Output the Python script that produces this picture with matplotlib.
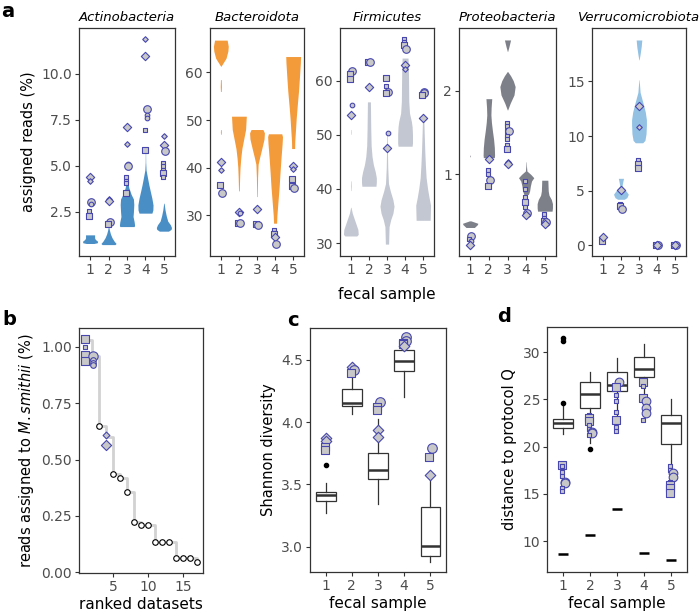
import numpy as np
import matplotlib
matplotlib.use('Agg')
from matplotlib import pyplot as plt
from matplotlib.ticker import FormatStrFormatter

samples = [1, 2, 3, 4, 5]
phyla = ['Actinobacteria', 'Bacteroidota', 'Firmicutes', 'Proteobacteria', 'Verrucomicrobiota']
phylum_colors = ['#4A8EC6', '#F39A3B', '#C3C7D1', '#7D8089', '#93C1E3']

# violin outlines: (sample, y levels, relative width)
actino_violins = [
    (1, [0.78, 0.82, 0.9, 1.0, 1.08, 1.25], [0.5, 0.95, 1.0, 0.7, 0.6, 0.6]),
    (2, [0.72, 0.78, 0.9, 1.1, 1.3, 1.5, 1.7], [0.85, 1.0, 0.75, 0.45, 0.25, 0.12, 0.03]),
    (3, [1.7, 1.78, 1.95, 2.25, 2.5, 2.9, 3.2, 3.45, 3.8, 4.1, 4.42],
        [0.95, 1.0, 0.95, 0.8, 0.85, 0.9, 0.85, 0.55, 0.25, 0.1, 0.02]),
    (4, [2.43, 2.6, 2.88, 3.24, 3.6, 3.97, 4.4, 4.78, 5.2, 5.69],
        [0.85, 0.98, 1.0, 0.85, 0.65, 0.45, 0.25, 0.08, 0.03, 0.02]),
    (5, [1.45, 1.55, 1.65, 1.8, 2.0, 2.3, 2.6, 2.97], [0.6, 0.95, 1.0, 0.85, 0.5, 0.3, 0.15, 0.03]),
]
bact_violins = [
    (1, [61.3, 62.0, 63.0, 64.5, 65.5, 66.8], [0.02, 0.3, 0.7, 0.95, 1.0, 0.85]),
    (1, [56.0, 57.0, 58.5], [0.05, 0.08, 0.05]),
    (1, [47.0, 47.5, 48.0], [0.04, 0.06, 0.04]),
    (2, [35.1, 38, 40, 42, 44, 46, 48, 50.8], [0.05, 0.1, 0.15, 0.25, 0.4, 0.65, 0.9, 1.0]),
    (3, [33.9, 36, 38, 40.7, 42.1, 44, 46, 47.3, 48.0], [0.04, 0.06, 0.08, 0.15, 0.35, 0.65, 0.95, 1.0, 0.8]),
    (4, [28.3, 30, 33, 36, 39, 42, 45, 46.5, 47.1], [0.2, 0.25, 0.4, 0.55, 0.67, 0.8, 0.95, 1.0, 0.9]),
    (5, [44.0, 45.6, 48, 50.5, 53, 56.0, 59, 62, 63.35], [0.2, 0.22, 0.32, 0.42, 0.55, 0.72, 0.85, 0.97, 1.0]),
]
firm_violins = [
    (1, [31.3, 31.6, 32.5, 33.5, 34.5, 35.5, 36.6], [0.8, 1.0, 0.95, 0.7, 0.45, 0.2, 0.03]),
    (1, [39.7, 40.6, 41.5], [0.03, 0.05, 0.03]),
    (1, [50.1, 50.5, 51.0], [0.03, 0.04, 0.03]),
    (2, [40.5, 41.2, 42.1, 43.2, 44.5, 46, 48, 51, 54, 56.1],
        [0.95, 1.0, 1.0, 0.85, 0.6, 0.42, 0.3, 0.25, 0.22, 0.2]),
    (3, [29.8, 31, 33, 34.3, 35.5, 36.8, 38.0, 39.6, 41.0, 44, 47, 50.7],
        [0.22, 0.24, 0.28, 0.5, 0.8, 0.95, 0.8, 0.45, 0.2, 0.1, 0.06, 0.04]),
    (4, [47.9, 48.5, 50.1, 51.5, 52.5, 54, 56.2, 59, 62, 64.2],
        [0.95, 1.0, 1.0, 0.95, 0.85, 0.6, 0.5, 0.48, 0.45, 0.4]),
    (5, [34.2, 35.3, 37.0, 38.4, 40, 42.1, 44.5, 47.0, 50, 53.1],
        [0.95, 0.97, 1.0, 0.8, 0.6, 0.4, 0.3, 0.22, 0.15, 0.08]),
]
proteo_violins = [
    (1, [0.365, 0.40, 0.415, 0.444], [0.55, 0.95, 1.0, 0.1]),
    (1, [1.21, 1.22, 1.23], [0.03, 0.04, 0.03]),
    (2, [1.2, 1.23, 1.32, 1.42, 1.52, 1.62, 1.71, 1.8, 1.905],
        [0.72, 0.75, 0.72, 0.62, 0.47, 0.34, 0.27, 0.3, 0.38]),
    (3, [2.47, 2.53, 2.607], [0.02, 0.2, 0.4]),
    (3, [1.77, 1.85, 1.95, 2.05, 2.12, 2.18, 2.23], [0.02, 0.35, 0.85, 1.0, 0.75, 0.4, 0.02]),
    (4, [0.76, 0.8, 0.86, 0.92, 0.96, 1.0, 1.04, 1.1, 1.15], [0.3, 0.45, 0.55, 0.7, 1.0, 0.6, 0.1, 0.04, 0.02]),
    (5, [0.56, 0.6, 0.65, 0.7, 0.75, 0.8, 0.87, 0.93], [0.95, 1.0, 1.0, 0.85, 0.55, 0.45, 0.42, 0.4]),
]
verr_violins = [
    (2, [4.2, 4.35, 4.66, 4.9, 5.2, 5.42, 5.8, 6.12], [0.45, 0.8, 1.0, 0.75, 0.4, 0.15, 0.25, 0.35]),
    (3, [16.98, 17.5, 18.2, 18.8], [0.02, 0.15, 0.3, 0.38]),
    (3, [9.38, 9.6, 10.2, 11.0, 11.5, 12.2, 13.0, 14.0, 15.15], [0.5, 0.8, 0.95, 1.0, 1.0, 0.85, 0.55, 0.15, 0.02]),
]

# single datasets: (sample, value, marker kind) D/d diamond, O/o circle, S/s square (upper = big)
actino_points = [
    (1, 4.42, 'D'), (1, 4.18, 'd'), (1, 3.03, 'O'), (1, 2.95, 'o'), (1, 2.55, 's'), (1, 2.25, 'S'),
    (2, 3.2, 'd'), (2, 3.1, 'D'), (2, 1.97, 'O'), (2, 1.83, 'S'),
    (3, 7.14, 'D'), (3, 6.2, 'd'), (3, 5.1, 'o'), (3, 4.97, 'O'), (3, 4.4, 's'), (3, 4.2, 's'),
    (3, 4.05, 's'), (3, 3.52, 'S'),
    (4, 11.9, 'd'), (4, 10.97, 'D'), (4, 8.1, 'O'), (4, 7.77, 'o'), (4, 7.6, 'o'), (4, 6.94, 's'), (4, 5.84, 'S'),
    (5, 6.64, 'd'), (5, 6.14, 'D'), (5, 5.8, 'O'), (5, 5.16, 's'), (5, 4.97, 's'), (5, 4.75, 's'),
    (5, 4.6, 'S'), (5, 4.37, 's'),
]
bact_points = [
    (1, 41.25, 'D'), (1, 39.4, 'd'), (1, 36.4, 'S'), (1, 34.6, 'O'),
    (2, 30.7, 'D'), (2, 30.5, 'o'), (2, 28.35, 'S'), (2, 28.3, 'O'),
    (3, 31.3, 'D'), (3, 28.1, 'S'), (3, 28.0, 'O'),
    (4, 26.9, 's'), (4, 26.3, 's'), (4, 26.0, 'S'), (4, 25.4, 'D'), (4, 24.0, 'O'),
    (5, 40.3, 'D'), (5, 39.6, 'd'), (5, 37.55, 'S'), (5, 36.2, 'S'), (5, 35.8, 'O'),
]
firm_points = [
    (1, 61.8, 'O'), (1, 61.2, 'S'), (1, 60.4, 'S'), (1, 55.6, 'o'), (1, 53.6, 'D'),
    (2, 63.4, 'S'), (2, 63.4, 'O'), (2, 58.8, 'D'),
    (3, 60.5, 'S'), (3, 59.0, 's'), (3, 58.0, 'O'), (3, 57.8, 'S'), (3, 50.4, 'o'), (3, 47.6, 'D'),
    (4, 67.7, 's'), (4, 67.2, 's'), (4, 66.6, 'S'), (4, 65.9, 'O'), (4, 62.9, 'D'), (4, 62.2, 'd'),
    (5, 58.0, 'O'), (5, 57.7, 'O'), (5, 57.4, 'S'), (5, 53.1, 'D'),
]
proteo_points = [
    (1, 0.265, 'O'), (1, 0.23, 's'), (1, 0.2, 'o'), (1, 0.158, 'D'),
    (2, 1.18, 'D'), (2, 1.05, 's'), (2, 1.0, 's'), (2, 0.95, 'o'), (2, 0.93, 'O'), (2, 0.86, 'S'),
    (3, 1.615, 's'), (3, 1.575, 's'), (3, 1.52, 's'), (3, 1.516, 'O'), (3, 1.456, 's'), (3, 1.417, 's'),
    (3, 1.357, 's'), (3, 1.30, 'S'), (3, 1.15, 'd'), (3, 1.12, 'D'),
    (4, 0.92, 's'), (4, 0.83, 's'), (4, 0.73, 's'), (4, 0.67, 'S'), (4, 0.61, 's'), (4, 0.544, 'O'), (4, 0.52, 'D'),
    (5, 0.53, 's'), (5, 0.48, 's'), (5, 0.44, 'S'), (5, 0.425, 'O'), (5, 0.405, 'D'),
]
verr_points = [
    (1, 0.4, 'S'), (1, 0.71, 'D'),
    (2, 5.05, 'D'), (2, 3.75, 's'), (2, 3.6, 'S'), (2, 3.3, 'O'),
    (3, 12.72, 'D'), (3, 10.84, 'd'), (3, 7.76, 's'), (3, 7.4, 'S'), (3, 7.03, 'S'),
    (4, 0.03, 'S'), (4, 0.03, 'O'), (4, 0.03, 'D'),
    (5, 0.03, 'S'), (5, 0.03, 'O'), (5, 0.03, 'D'),
]

# panel b
ranks = list(range(1, 18))
smithii_reads = [1.03, 0.96, 0.65, 0.60, 0.435, 0.42, 0.355, 0.225, 0.21, 0.21,
                 0.134, 0.134, 0.134, 0.063, 0.063, 0.062, 0.046]
smithii_points = [(1, 1.034, 'S'), (1, 1.0, 's'), (1, 0.965, 'S'), (1, 0.935, 'S'),
                  (2, 0.96, 'O'), (2, 0.94, 'o'), (2, 0.928, 'o'), (2, 0.918, 'o'),
                  (4, 0.607, 'd'), (4, 0.565, 'D')]
reference_ranks = [3, 5, 6, 7, 8, 9, 10, 11, 12, 13, 14, 15, 16, 17]

# panel c
shannon_boxes = [
    dict(whislo=3.27, q1=3.367, med=3.415, q3=3.44, whishi=3.509, fliers=[3.66]),
    dict(whislo=4.07, q1=4.13, med=4.157, q3=4.264, whishi=4.39, fliers=[]),
    dict(whislo=3.34, q1=3.541, med=3.616, q3=3.755, whishi=4.03, fliers=[]),
    dict(whislo=4.2, q1=4.41, med=4.494, q3=4.58, whishi=4.63, fliers=[]),
    dict(whislo=2.879, q1=2.924, med=3.007, q3=3.316, whishi=3.575, fliers=[]),
]
shannon_points = [
    (1, 3.87, 'D'), (1, 3.85, 'D'), (1, 3.80, 'S'), (1, 3.776, 'S'),
    (2, 4.446, 'D'), (2, 4.42, 'O'), (2, 4.393, 'S'),
    (3, 4.165, 'O'), (3, 4.125, 'S'), (3, 4.10, 'S'), (3, 3.937, 'D'), (3, 3.879, 'D'),
    (4, 4.687, 'O'), (4, 4.65, 'O'), (4, 4.64, 'S'), (4, 4.63, 'S'), (4, 4.61, 'D'),
    (5, 3.79, 'O'), (5, 3.722, 'S'), (5, 3.576, 'D'),
]

# panel d
distance_boxes = [
    dict(whislo=21.31, q1=21.95, med=22.48, q3=22.97, whishi=24.42, fliers=[24.6, 31.2, 31.5]),
    dict(whislo=20.36, q1=24.07, med=25.58, q3=26.82, whishi=27.88, fliers=[19.72]),
    dict(whislo=22.12, q1=25.9, med=26.54, q3=27.95, whishi=29.36, fliers=[]),
    dict(whislo=23.2, q1=27.35, med=28.2, q3=29.54, whishi=30.88, fliers=[]),
    dict(whislo=16.8, q1=20.29, med=22.48, q3=23.36, whishi=25.02, fliers=[]),
]
replicate_distance = [8.60, 10.65, 13.4, 8.77, 8.0]
distance_points = [
    (1, 18.06, 'S'), (1, 17.9, 's'), (1, 17.3, 's'), (1, 16.9, 's'), (1, 16.3, 'O'), (1, 16.1, 'O'),
    (1, 15.6, 's'), (1, 15.35, 's'),
    (2, 23.36, 's'), (2, 23.0, 'S'), (2, 22.7, 'S'), (2, 22.3, 's'), (2, 21.9, 's'), (2, 21.6, 'O'),
    (2, 21.4, 'O'), (2, 21.2, 's'),
    (3, 26.9, 'O'), (3, 26.36, 'S'), (3, 25.5, 's'), (3, 24.8, 's'), (3, 23.7, 's'), (3, 22.83, 'S'),
    (3, 22.1, 's'), (3, 21.7, 's'),
    (4, 26.9, 'S'), (4, 26.4, 's'), (4, 25.2, 'S'), (4, 24.8, 'O'), (4, 24.1, 'O'), (4, 23.54, 'O'),
    (4, 22.83, 's'),
    (5, 17.97, 's'), (5, 17.5, 's'), (5, 17.18, 'O'), (5, 16.8, 'O'), (5, 16.3, 's'), (5, 15.94, 'S'),
    (5, 15.6, 'S'), (5, 15.06, 'S'),
]

marker_style = {'D': ('D', 18), 'd': ('D', 8), 'O': ('o', 30), 'o': ('o', 11), 'S': ('s', 22), 's': ('s', 8)}
marker_shift = {'D': 0.0, 'd': 0.0, 'O': 0.07, 'o': 0.07, 'S': -0.04, 's': -0.04}
POINT_FILL = '#C8C8C8'
POINT_EDGE = '#4747AE'
SPINE = '#333333'
TICKLABEL = '#4D4D4D'

W, H = 700, 616
fig = plt.figure(figsize=(W / 100, H / 100), dpi=100)


def px_axes(left, top, right, bottom):
    return fig.add_axes([left / W, 1 - bottom / H, (right - left) / W, (bottom - top) / H])


def style_axes(ax):
    for s in ax.spines.values():
        s.set_color(SPINE)
        s.set_linewidth(0.9)
    ax.tick_params(length=3, width=0.8, color=SPINE, labelcolor=TICKLABEL, labelsize=10, pad=2)


def draw_points(ax, points, scale=1.0):
    for sample, value, kind in points:
        m, size = marker_style[kind]
        ax.scatter(sample + marker_shift[kind], value, marker=m, s=size * scale,
                   facecolor=POINT_FILL, edgecolor=POINT_EDGE, linewidths=0.8, zorder=4)


# ---- panel a
a_boxes = [(79, 175), (210, 304), (340, 434), (459, 556), (592, 686)]
a_ylims = [(0.1, 12.5), (21.4, 69.35), (27.6, 69.76), (0.024, 2.75), (-1.0, 19.9)]
a_yticks = [[2.5, 5.0, 7.5, 10.0], [30, 40, 50, 60], [30, 40, 50, 60], [1, 2], [0, 5, 10, 15]]
a_violins = [actino_violins, bact_violins, firm_violins, proteo_violins, verr_violins]
a_points = [actino_points, bact_points, firm_points, proteo_points, verr_points]

for i in range(5):
    ax = px_axes(a_boxes[i][0], 28, a_boxes[i][1], 256)
    for sample, ys, ws in a_violins[i]:
        ws = np.array(ws) * 0.41
        ax.fill_betweenx(ys, sample - ws, sample + ws, color=phylum_colors[i], lw=0, zorder=2)
    draw_points(ax, a_points[i])
    ax.set_xlim(0.4, 5.6)
    ax.set_ylim(*a_ylims[i])
    ax.set_xticks(samples)
    ax.set_yticks(a_yticks[i])
    if i == 0:
        ax.yaxis.set_major_formatter(FormatStrFormatter('%.1f'))
        ax.set_ylabel('assigned reads (%)', fontsize=10.5, labelpad=4)
    ax.set_title(phyla[i], fontsize=9.5, style='italic', pad=5)
    style_axes(ax)
fig.text(387 / W, 1 - 294 / H, 'fecal sample', fontsize=11, ha='center', va='center')

# ---- panel b
ax = px_axes(79, 328, 203, 573)
ax.step(ranks, smithii_reads, where='post', color='#D2D2D2', lw=2, zorder=1)
ax.scatter(reference_ranks, [smithii_reads[r - 1] for r in reference_ranks], s=16,
           facecolor='white', edgecolor='black', linewidths=0.8, zorder=3)
draw_points(ax, smithii_points, scale=1.5)
ax.set_xlim(0.1, 17.9)
ax.set_ylim(-0.003, 1.083)
ax.set_xticks([5, 10, 15])
ax.set_yticks([0, 0.25, 0.5, 0.75, 1.0])
ax.yaxis.set_major_formatter(FormatStrFormatter('%.2f'))
ax.set_xlabel('ranked datasets', fontsize=11, labelpad=2)
ax.set_ylabel(r'reads assigned to $\mathit{M. smithii}$ (%)', fontsize=10.5, labelpad=4)
style_axes(ax)

# ---- panel c
box_kw = dict(positions=samples, widths=0.75, patch_artist=True, showcaps=False,
              boxprops=dict(facecolor='white', edgecolor=SPINE, linewidth=0.9),
              medianprops=dict(color=SPINE, linewidth=1.8),
              whiskerprops=dict(color=SPINE, linewidth=0.9),
              flierprops=dict(marker='o', markersize=3, markerfacecolor='black',
                              markeredgecolor='black'))
ax = px_axes(310, 328, 446, 572)
ax.bxp(shannon_boxes, **box_kw)
draw_points(ax, shannon_points, scale=1.6)
ax.set_xlim(0.4, 5.6)
ax.set_ylim(2.797, 4.757)
ax.set_xticks(samples)
ax.set_xticklabels(samples)
ax.set_yticks([3.0, 3.5, 4.0, 4.5])
ax.yaxis.set_major_formatter(FormatStrFormatter('%.1f'))
ax.set_xlabel('fecal sample', fontsize=11, labelpad=2)
ax.set_ylabel('Shannon diversity', fontsize=10.5, labelpad=4)
style_axes(ax)

# ---- panel d
ax = px_axes(547, 327, 687, 572)
ax.bxp(distance_boxes, **box_kw)
ax.scatter(samples, replicate_distance, marker='_', s=60, color='black', linewidths=1.8, zorder=3)
draw_points(ax, distance_points, scale=1.3)
ax.set_xlim(0.4, 5.6)
ax.set_ylim(6.72, 32.68)
ax.set_xticks(samples)
ax.set_xticklabels(samples)
ax.set_yticks([10, 15, 20, 25, 30])
ax.set_xlabel('fecal sample', fontsize=11, labelpad=2)
ax.set_ylabel('distance to protocol Q', fontsize=10.5, labelpad=4)
style_axes(ax)

# panel letters
for letter, x, y in [('a', 1, 2), ('b', 2, 310), ('c', 287, 311), ('d', 497, 307)]:
    fig.text(x / W, 1 - y / H, letter, fontsize=14, fontweight='bold', ha='left', va='top')

fig.savefig('out.png', dpi=100)
